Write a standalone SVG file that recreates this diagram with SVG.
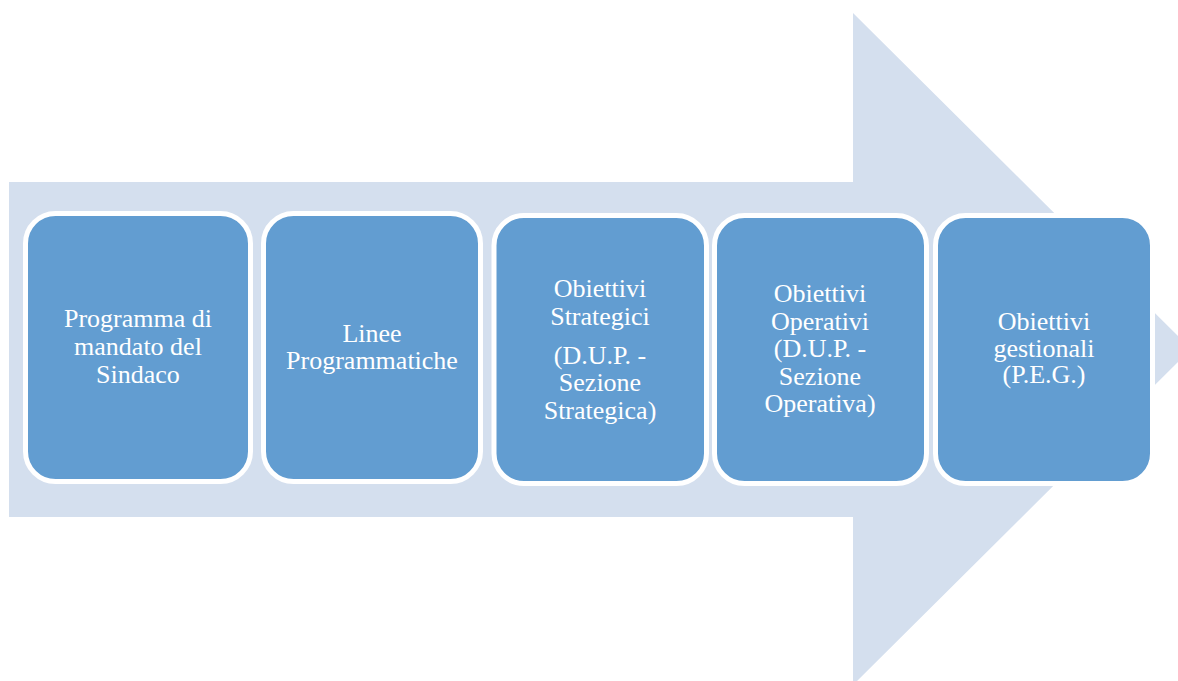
<svg xmlns="http://www.w3.org/2000/svg" width="1178" height="681" viewBox="0 0 1178 681">
<style>
.bg{fill:#D4DFEE}
.box{fill:#629DD1;stroke:#FFFFFF;stroke-width:5}
.t{font-family:"Liberation Serif","Times New Roman",serif;font-size:26px;fill:#FFFFFF;text-anchor:middle}
</style>
<rect width="1178" height="681" fill="#FFFFFF"/>
<g id="arrow">
<polygon class="bg" points="9,182 853,182 853,13 1191,349 853,685 853,517 9,517"/>
</g>
<g id="connectors"></g>
<g id="node1">
<rect class="box" x="25.5" y="213.5" width="225" height="268" rx="30"/>
<text class="t"><tspan x="138" y="327">Programma di</tspan><tspan x="138" y="355">mandato del</tspan><tspan x="138" y="383">Sindaco</tspan></text>
</g>
<g id="node2">
<rect class="box" x="263.5" y="213.5" width="217" height="268" rx="30"/>
<text class="t"><tspan x="372" y="342">Linee</tspan><tspan x="372" y="368.5">Programmatiche</tspan></text>
</g>
<g id="node3">
<rect class="box" x="494" y="215.5" width="212.5" height="268" rx="30"/>
<text class="t"><tspan x="600" y="297">Obiettivi</tspan><tspan x="600" y="324.5">Strategici</tspan><tspan x="600" y="363.5">(D.U.P. -</tspan><tspan x="600" y="391">Sezione</tspan><tspan x="600" y="418.5">Strategica)</tspan></text>
</g>
<g id="node4">
<rect class="box" x="714.5" y="215.5" width="212" height="268" rx="30"/>
<text class="t"><tspan x="820" y="302">Obiettivi</tspan><tspan x="820" y="329.5">Operativi</tspan><tspan x="820" y="357">(D.U.P. -</tspan><tspan x="820" y="384.5">Sezione</tspan><tspan x="820" y="412">Operativa)</tspan></text>
</g>
<g id="node5">
<rect class="box" x="935.5" y="215.5" width="217" height="268" rx="30"/>
<text class="t"><tspan x="1044" y="330">Obiettivi</tspan><tspan x="1044" y="356.5">gestionali</tspan><tspan x="1044" y="383">(P.E.G.)</tspan></text>
</g>
</svg>
